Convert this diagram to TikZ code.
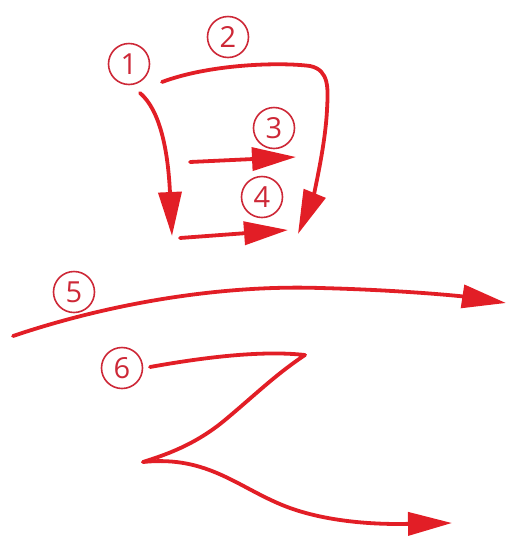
\documentclass[tikz,border=0pt]{standalone}
\usepackage{fontspec}
\setmainfont{Open Sans}
\usetikzlibrary{arrows.meta}
\definecolor{strk}{RGB}{226,30,38}
\definecolor{ring}{RGB}{205,40,55}
\tikzset{
  num/.style={circle, draw=ring, line width=1.6pt, text=ring, minimum size=41pt, inner sep=0pt, font=\fontsize{29}{29}\selectfont},
  stroke/.style={draw=strk, line width=3.8pt, line cap=round, -{Triangle[length=44pt,width=23pt]}},
  strokeplain/.style={draw=strk, line width=3.8pt, line cap=round, line join=round}
}
\begin{document}
\begin{tikzpicture}[x=1pt,y=-1pt]
\useasboundingbox (0,0) rectangle (509,542);
% labels
\node[num] (n1) at (129,64) {1};
\node[num] (n2) at (228,37) {2};
\node[num] (n3) at (274,128) {3};
\node[num] (n4) at (262,197) {4};
\node[num] (n5) at (74,292) {5};
\node[num] (n6) at (122,368) {6};
% stroke coordinates
\coordinate (s1a) at (140,93);
\coordinate (s1b) at (172,236);
\coordinate (s2a) at (162,82);
\coordinate (s2b) at (298,234);
\coordinate (s3a) at (190,162);
\coordinate (s3b) at (296,157);
\coordinate (s4a) at (180,238);
\coordinate (s4b) at (288,230);
\coordinate (s5a) at (13,336);
\coordinate (s5b) at (506,303);
\coordinate (s6a) at (150,367);
\coordinate (s6k) at (305,355);
\coordinate (s6m) at (143,462);
\coordinate (s6b) at (452,523);
% strokes
\draw[stroke] (s1a) .. controls (160,110) and (168,150) .. (s1b);
\draw[stroke] (s2a) .. controls (210,64) and (280,62) .. (310,66)
  .. controls (330,70) and (328,90) .. (327,110)
  .. controls (325,150) and (312,200) .. (s2b);
\draw[stroke] (s3a) -- (s3b);
\draw[stroke] (s4a) -- (s4b);
\draw[stroke] (s5a) .. controls (120,300) and (230,285) .. (320,288)
  .. controls (400,290) and (460,296) .. (s5b);
\draw[strokeplain] (s6a) .. controls (200,358) and (260,350) .. (s6k)
  .. controls (275,375) and (255,395) .. (225,420)
  .. controls (195,445) and (165,455) .. (s6m);
\draw[stroke] (s6m) .. controls (210,455) and (240,490) .. (290,508)
  .. controls (340,526) and (400,524) .. (s6b);
\end{tikzpicture}
\end{document}
